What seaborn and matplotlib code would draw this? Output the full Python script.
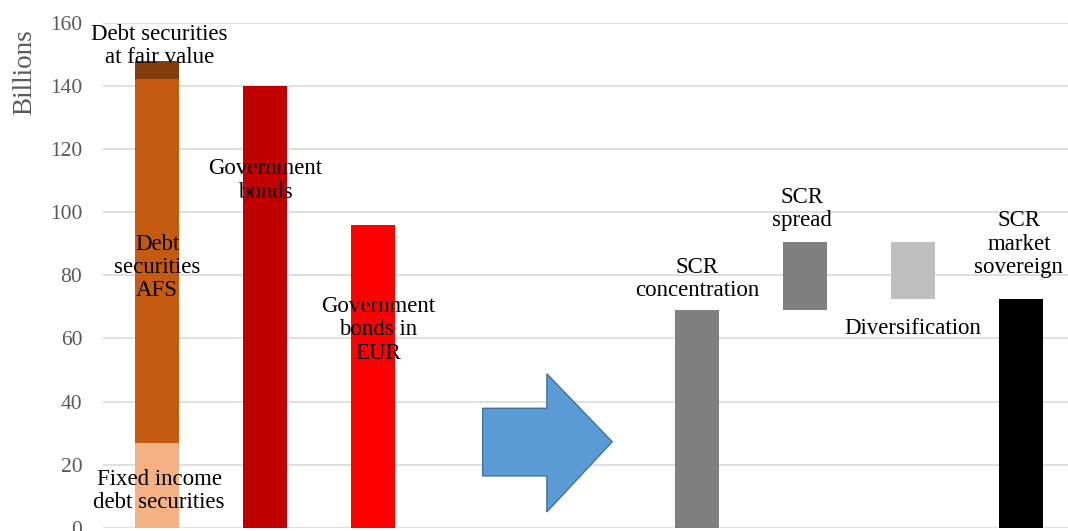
import numpy as np
import pandas as pd
import matplotlib.pyplot as plt
import seaborn as sns
from matplotlib.patches import Polygon

# categories on the x axis (two empty slots hold the arrow)
cats = ["Debt securities", "Government bonds", "Government bonds in EUR", "gap1", "gap2",
        "SCR concentration", "SCR spread", "Diversification", "SCR market sovereign"]

# first column: stacked debt securities
debt_parts = ["Fixed income debt securities", "Debt securities AFS", "Debt securities at fair value"]
debt_values = [27, 115, 6]
debt_colors = ["#F4B183", "#C55A11", "#843C0C"]

# government bonds
gov_cats = ["Government bonds", "Government bonds in EUR"]
gov_values = [140, 96]
gov_colors = ["#C00000", "#FF0000"]

# SCR waterfall: concentration, spread, diversification, total
scr_cats = ["SCR concentration", "SCR spread", "Diversification", "SCR market sovereign"]
scr_steps = [69, 21.6, -18.0]
scr_total = 72.6
scr_colors = ["#7F7F7F", "#7F7F7F", "#BFBFBF", "#000000"]

# build bar segments
rows = []
base = 0
for part, v, c in zip(debt_parts, debt_values, debt_colors):
    rows.append((cats[0], base, v, c))
    base += v
for cat, v, c in zip(gov_cats, gov_values, gov_colors):
    rows.append((cat, 0, v, c))
level = 0
for cat, v, c in zip(scr_cats[:3], scr_steps, scr_colors[:3]):
    rows.append((cat, min(level, level + v), abs(v), c))
    level += v
rows.append((scr_cats[3], 0, scr_total, scr_colors[3]))
seg = pd.DataFrame(rows, columns=["cat", "bottom", "height", "color"])

# text labels: (text, x position, y position)
labels = [
    ("Debt securities\nat fair value", 0.02, 152.5),
    ("Debt\nsecurities\nAFS", 0.0, 82.5),
    ("Fixed income\ndebt securities", 0.02, 11.7),
    ("Government\nbonds", 1.0, 110),
    ("Government\nbonds in\nEUR", 2.05, 62.7),
    ("SCR\nconcentration", 5.0, 78.8),
    ("SCR\nspread", 5.97, 101),
    ("Diversification", 7.0, 63.3),
    ("SCR\nmarket\nsovereign", 7.98, 89.9),
]

serif = ["Liberation Serif", "DejaVu Serif"]
sns.set_style("white")
plt.rcParams["font.family"] = serif

fig = plt.figure(figsize=(10.68, 5.31), dpi=100)
ax = fig.add_axes([103 / 1068, 3 / 531, 972 / 1068, 505.4 / 531])

for _, r in seg.iterrows():
    sns.barplot(x=[r["cat"]], y=[r["height"]], order=cats, bottom=r["bottom"],
                color=r["color"], width=0.4, saturation=1, linewidth=0,
                edgecolor="none", ax=ax, zorder=3)

# big arrow between the two groups
arrow = Polygon([(3.015, 16.5), (3.61, 16.5), (3.61, 5.1), (4.215, 27.3),
                 (3.61, 48.8), (3.61, 37.9), (3.015, 37.9)],
                closed=True, facecolor="#5B9BD5", edgecolor="#41719C", lw=1, zorder=3)
ax.add_patch(arrow)

for txt, x, y in labels:
    ax.text(x, y, txt, ha="center", va="center", fontsize=16.5, color="black",
            linespacing=1.15, zorder=5)

ax.set_xlim(-0.5, 8.5)
ax.set_ylim(0, 160)
ax.set_yticks(np.arange(0, 161, 20))
ax.yaxis.grid(True, color="#D9D9D9", lw=1.2)
ax.set_axisbelow(True)
ax.set_xticks([])
ax.set_xlabel("")
ax.set_ylabel("")
ax.tick_params(axis="y", length=0, pad=15, labelsize=15.5, labelcolor="#595959")
for s in ax.spines.values():
    s.set_visible(False)

fig.text(25 / 1068, 1 - 72 / 531, "Billions", rotation=90, ha="center", va="center",
         fontsize=19.5, color="#595959")

fig.savefig("out.png", dpi=100)
